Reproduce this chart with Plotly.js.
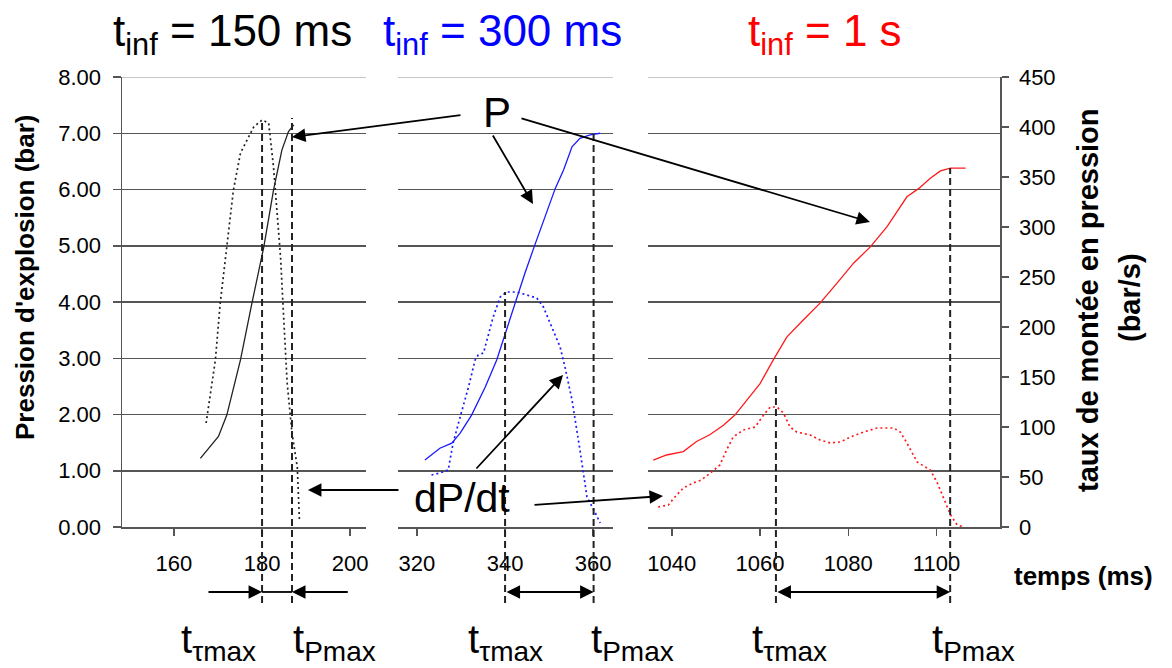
<!DOCTYPE html>
<html>
<head>
<meta charset="utf-8">
<script src="https://cdn.plot.ly/plotly-3.0.1.min.js"></script>
<style>html,body{margin:0;padding:0;background:#fff;}</style>
</head>
<body>
<div id="chart" style="width:1172px;height:668px;"></div>
<script>
// ---- Data ----
// t_inf = 150 ms
const t150P = [166.0, 170.1, 172.0, 175.1, 177.7, 180.4, 182.6, 184.5, 186.0, 187.2];
const P150  = [1.22, 1.61, 1.99, 2.97, 3.98, 4.98, 5.99, 6.70, 7.03, 7.15];
const t150D = [167.3, 169.4, 170.5, 172.0, 173.5, 175.1, 178.1, 180.0, 181.5, 182.6, 183.4, 184.2, 184.9, 185.7, 186.8, 188.0, 188.5];
const D150  = [104, 167, 224, 280, 337, 374, 400, 407, 404, 360, 317, 270, 210, 144, 94, 60, 5];
// t_inf = 300 ms
const t300P = [321.8, 325.2, 327.9, 329.8, 332.4, 335.5, 338.1, 340.0, 342.3, 344.5, 346.6, 349.1, 351.4, 353.3, 355.2, 357.0, 359.3, 361.6];
const P300  = [1.19, 1.40, 1.49, 1.67, 1.99, 2.49, 2.97, 3.44, 3.98, 4.51, 4.98, 5.52, 6.02, 6.35, 6.76, 6.91, 6.97, 7.00];
const t300D = [323.3, 325.2, 327.1, 328.2, 329.8, 331.7, 333.2, 333.9, 335.1, 337.3, 338.9, 340.4, 342.7, 344.9, 347.2, 348.7, 350.6, 352.5, 353.6, 355.2, 357.0, 358.6, 360.5, 361.6];
const D300  = [52, 54, 57, 84, 110, 140, 167, 172, 174, 210, 230, 235, 235, 232, 229, 220, 200, 180, 160, 127, 77, 30, 14, 4];
// t_inf = 1 s
const t1000P = [1035.8, 1038.8, 1042.6, 1045.6, 1048.6, 1051.7, 1054.3, 1057.0, 1060.0, 1063.0, 1066.1, 1069.8, 1073.6, 1077.4, 1081.2, 1085.0, 1088.8, 1093.3, 1096.0, 1098.6, 1100.9, 1103.2, 1106.6];
const P1000  = [1.19, 1.28, 1.34, 1.52, 1.64, 1.81, 1.99, 2.26, 2.55, 2.97, 3.38, 3.68, 3.98, 4.33, 4.69, 4.98, 5.34, 5.87, 6.02, 6.20, 6.33, 6.38, 6.38];
const t1000D = [1036.9, 1039.2, 1040.7, 1042.6, 1044.8, 1046.7, 1049.0, 1050.9, 1052.4, 1053.9, 1056.2, 1058.9, 1060.8, 1062.3, 1063.8, 1065.3, 1066.8, 1068.3, 1071.4, 1073.6, 1075.9, 1078.2, 1080.5, 1083.5, 1086.5, 1090.3, 1091.8, 1093.3, 1095.6, 1098.6, 1100.2, 1101.7, 1103.2, 1104.7, 1106.2];
const D1000  = [20, 22, 30, 39, 44, 47, 55, 62, 77, 90, 97, 100, 112, 120, 120, 114, 100, 95, 92, 87, 84, 85, 90, 95, 99, 99, 95, 84, 65, 57, 44, 27, 12, 2, 0];

// characteristic times (ms)
const tTauMax = [180.0, 340.0, 1063.6];
const tPMax   = [186.8, 360.1, 1103.1];

// tick labels
const xTicks1 = [160, 180, 200];
const xTicks2 = [320, 340, 360];
const xTicks3 = [1040, 1060, 1080, 1100];

const panelTitles = ['t<sub>inf</sub> = 150 ms', 't<sub>inf</sub> = 300 ms', 't<sub>inf</sub> = 1 s'];
const panelColors = ['#000000', '#0000ff', '#ff0000'];

// ---- Styles ----
const FONT = 'Liberation Sans, Arial, sans-serif';
const GRID = '#555555';
const TICKSIZE = 22;
const solidW = 1.3, dotW = 1.7, DOT = '2px,3px';

const traces = [
  {x: t150P, y: P150, xaxis: 'x', yaxis: 'y', mode: 'lines', line: {color: '#222', width: solidW}},
  {x: t150D, y: D150, xaxis: 'x', yaxis: 'y4', mode: 'lines', line: {color: '#222', width: dotW, dash: DOT}},
  {x: t300P, y: P300, xaxis: 'x2', yaxis: 'y2', mode: 'lines', line: {color: '#1a1aff', width: solidW}},
  {x: t300D, y: D300, xaxis: 'x2', yaxis: 'y5', mode: 'lines', line: {color: '#1a1aff', width: dotW, dash: DOT}},
  {x: t1000P, y: P1000, xaxis: 'x3', yaxis: 'y3', mode: 'lines', line: {color: '#ff1a1a', width: solidW}},
  {x: t1000D, y: D1000, xaxis: 'x3', yaxis: 'y6', mode: 'lines', line: {color: '#ff1a1a', width: dotW, dash: DOT}}
];

const xBase = {
  ticks: 'outside', ticklen: 7, tickwidth: 1.5, tickcolor: GRID,
  showline: true, linecolor: GRID, linewidth: 1.5,
  showgrid: false, zeroline: false, ticklabelstandoff: 9,
  tickfont: {size: TICKSIZE, color: '#000', family: FONT}
};
const yGridOnly = {
  range: [0, 8], dtick: 1, showgrid: true, gridcolor: GRID, gridwidth: 1.5,
  showticklabels: false, ticks: '', zeroline: false, showline: false
};

const layout = {
  width: 1172, height: 668,
  margin: {l: 122, r: 172, t: 77, b: 141},
  paper_bgcolor: '#fff', plot_bgcolor: '#fff',
  showlegend: false,
  font: {family: FONT, size: TICKSIZE, color: '#000'},
  xaxis:  Object.assign({}, xBase, {domain: [0, 0.2779], range: [148.2, 203.6], tickvals: xTicks1, anchor: 'y'}),
  xaxis2: Object.assign({}, xBase, {domain: [0.3144, 0.5592], range: [315.7, 364.5], tickvals: xTicks2, anchor: 'y2'}),
  xaxis3: Object.assign({}, xBase, {domain: [0.5991, 1], range: [1034.6, 1114.4], tickvals: xTicks3, anchor: 'y3'}),
  yaxis: {
    anchor: 'x', range: [0, 8], dtick: 1, tickformat: '.2f',
    showgrid: true, gridcolor: GRID, gridwidth: 1.5, zeroline: false,
    showline: true, linecolor: GRID, linewidth: 1.5,
    ticks: 'outside', ticklen: 8, tickwidth: 1.5, tickcolor: GRID, ticklabelstandoff: 7,
    tickfont: {size: TICKSIZE, color: '#000', family: FONT}
  },
  yaxis2: Object.assign({}, yGridOnly, {anchor: 'x2'}),
  yaxis3: Object.assign({}, yGridOnly, {anchor: 'x3'}),
  yaxis4: {overlaying: 'y', anchor: 'x', range: [0, 450], visible: false},
  yaxis5: {overlaying: 'y2', anchor: 'x2', range: [0, 450], visible: false},
  yaxis6: {
    overlaying: 'y3', anchor: 'x3', side: 'right', range: [0, 450], dtick: 50,
    showgrid: false, zeroline: false, showline: true, linecolor: GRID, linewidth: 1.5,
    ticks: 'outside', ticklen: 7, tickwidth: 1.5, tickcolor: GRID, ticklabelstandoff: 6,
    tickfont: {size: TICKSIZE, color: '#000', family: FONT}
  },
  shapes: [],
  annotations: []
};

const xrefs = ['x', 'x2', 'x3'];
const tauTop = [0.904, 0.522, 0.338];
const pTop = [0.909, 0.882, 0.798];
const lineBottom = -0.169;
const arrowY = -0.1444;
const dashStyle = {color: '#222', width: 2, dash: '7px,4px'};

for (let i = 0; i < 3; i++) {
  // lighter top gridline
  layout.shapes.push({type: 'line', xref: xrefs[i] + ' domain', yref: i === 0 ? 'y' : 'y' + (i + 1),
    x0: 0, x1: 1, y0: 8, y1: 8, layer: 'above', line: {color: '#b4b4b4', width: 1.5}});
  // vertical dashed markers
  layout.shapes.push({type: 'line', xref: xrefs[i], yref: 'paper', x0: tTauMax[i], x1: tTauMax[i],
    y0: lineBottom, y1: tauTop[i], layer: 'above', line: dashStyle});
  layout.shapes.push({type: 'line', xref: xrefs[i], yref: 'paper', x0: tPMax[i], x1: tPMax[i],
    y0: lineBottom, y1: pTop[i], layer: 'above', line: dashStyle});
}
// panel-1 connecting segment between the two inward arrows
layout.shapes.push({type: 'line', xref: 'x', yref: 'paper', x0: tTauMax[0], x1: tPMax[0],
  y0: arrowY, y1: arrowY, line: {color: '#000', width: 1.8}});

const arrowStyle = {text: '', showarrow: true, arrowhead: 2, arrowsize: 1.5, arrowwidth: 1.8, arrowcolor: '#000', standoff: 0, startstandoff: 0};
const A = (o) => layout.annotations.push(Object.assign({}, arrowStyle, o));

// bottom interval arrows
A({xref: 'x', yref: 'paper', x: tTauMax[0], y: arrowY, axref: 'x', ax: 167.5, ayref: 'pixel', ay: 0});
A({xref: 'x', yref: 'paper', x: tPMax[0], y: arrowY, axref: 'x', ax: 199.8, ayref: 'pixel', ay: 0});
A({xref: 'x2', yref: 'paper', x: tPMax[1], y: arrowY, axref: 'x2', ax: tTauMax[1], ayref: 'pixel', ay: 0, arrowside: 'end+start'});
A({xref: 'x3', yref: 'paper', x: tPMax[2], y: arrowY, axref: 'x3', ax: tTauMax[2], ayref: 'pixel', ay: 0, arrowside: 'end+start'});

// "P" pointer arrows
A({xref: 'paper', yref: 'paper', x: 0.1936, y: 0.8667, ax: 170, ay: -22});
A({xref: 'paper', yref: 'paper', x: 0.4681, y: 0.7178, ax: -41, ay: -70});
A({xref: 'paper', yref: 'paper', x: 0.8519, y: 0.6778, ax: -350, ay: -104});
// "dP/dt" pointer arrows
A({xref: 'paper', yref: 'paper', x: 0.2118, y: 0.0822, ax: 92, ay: 0});
A({xref: 'paper', yref: 'paper', x: 0.5023, y: 0.3378, ax: -88, ay: 95});
A({xref: 'paper', yref: 'paper', x: 0.6162, y: 0.0689, ax: -130, ay: 9});

const T = (o) => layout.annotations.push(Object.assign({showarrow: false, xref: 'paper', yref: 'paper', xanchor: 'center', yanchor: 'middle'}, o));
const px = (v) => (v - 122) / 878;
const py = (v) => (527 - v) / 450;
T({x: px(497), y: py(113), text: 'P', font: {size: 42, color: '#000'}});
T({x: px(462), y: py(498), text: 'dP/dt', font: {size: 41, color: '#000'}});

// panel titles
const titleX = [232, 502, 825];
for (let i = 0; i < 3; i++) {
  T({x: px(titleX[i]), y: py(34), text: panelTitles[i], font: {size: 44, color: panelColors[i]}});
}
// bottom time labels
const lblX = [218, 334, 505, 632, 789, 973];
const lblT = ['t<sub>τmax</sub>', 't<sub>Pmax</sub>', 't<sub>τmax</sub>', 't<sub>Pmax</sub>', 't<sub>τmax</sub>', 't<sub>Pmax</sub>'];
for (let i = 0; i < 6; i++) {
  T({x: px(lblX[i]), y: py(642), text: lblT[i], font: {size: 40, color: '#000'}});
}
// axis titles
T({x: px(25), y: py(278), text: "Pression d'explosion (bar)", textangle: -90, font: {size: 26, color: '#000', weight: 'bold'}});
T({x: px(1088), y: py(300), text: 'taux de montée en pression', textangle: -90, font: {size: 29, color: '#000', weight: 'bold'}});
T({x: px(1130), y: py(298), text: '(bar/s)', textangle: -90, font: {size: 29, color: '#000', weight: 'bold'}});
T({x: px(1083), y: py(576), text: 'temps (ms)', font: {size: 26, color: '#000', weight: 'bold'}});

Plotly.newPlot('chart', traces, layout, {staticPlot: true, displayModeBar: false});
</script>
</body>
</html>
